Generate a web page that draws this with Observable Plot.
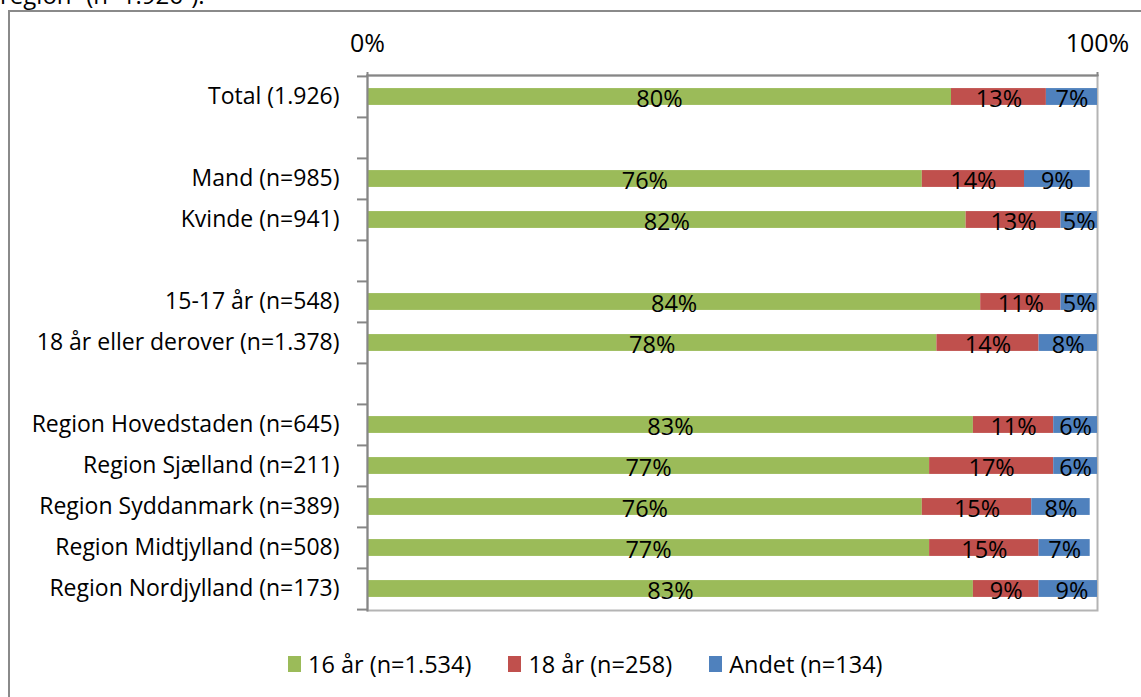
<!DOCTYPE html>
<html>
<head>
<meta charset="utf-8">
<script src="https://cdn.jsdelivr.net/npm/d3@7"></script>
<script src="https://cdn.jsdelivr.net/npm/@observablehq/plot@0.6"></script>
<style>
  body { margin: 0; background: #fff; font-family: "Open Sans", sans-serif; color: #000; }
  #wrap { position: relative; width: 1141px; height: 697px; overflow: hidden; background: #fff; }
  #caption { position: absolute; left: 0; top: -20px; font-size: 24px; line-height: 30px; white-space: nowrap; }
  #border { position: absolute; left: 8px; top: 10px; width: 1300px; height: 900px; border: 2px solid #8a8a8a; box-sizing: border-box; }
  #chart { position: absolute; left: 0; top: 0; }
  #legend { position: absolute; left: 288px; top: 648px; display: flex; align-items: center; font-size: 23.5px; line-height: 32px; }
  .item { display: flex; align-items: center; margin-right: 37px; }
  .swatch { width: 13px; height: 16px; margin-right: 7px; }
</style>
</head>
<body>
<div id="wrap">
  <div id="caption">region” (n=1.926”).</div>
  <div id="border"></div>
  <div id="chart"></div>
  <div id="legend"></div>
</div>
<script>
// Answer groups (stack order, left to right) and their colours
const series = ["16 år (n=1.534)", "18 år (n=258)", "Andet (n=134)"];
const colors = ["#9BBB59", "#C0504D", "#4F81BD"];

// Respondent groups
const groups = [
  "Total (1.926)",
  "Mand (n=985)",
  "Kvinde (n=941)",
  "15-17 år (n=548)",
  "18 år eller derover (n=1.378)",
  "Region Hovedstaden (n=645)",
  "Region Sjælland (n=211)",
  "Region Syddanmark (n=389)",
  "Region Midtjylland (n=508)",
  "Region Nordjylland (n=173)"
];

// Shares in percent, one value per group
const share16 = [80, 76, 82, 84, 78, 83, 77, 76, 77, 83];
const share18 = [13, 14, 13, 11, 14, 11, 17, 15, 15, 9];
const shareAndet = [7, 9, 5, 5, 8, 6, 6, 8, 7, 9];

// Empty rows separate total, gender, age and region blocks
const gapKeys = ["gap-1", "gap-2", "gap-3"];
const rows = [
  groups[0], gapKeys[0],
  groups[1], groups[2], gapKeys[1],
  groups[3], groups[4], gapKeys[2],
  ...groups.slice(5)
];

const xTicks = [0, 100];

const shares = [share16, share18, shareAndet];
const data = [];
groups.forEach((g, i) => {
  series.forEach((s, j) => data.push({group: g, series: s, value: shares[j][i]}));
});

const width = 1141, height = 630;
const marginTop = 75, marginBottom = 20, marginLeft = 367, marginRight = 44;
const plotW = width - marginLeft - marginRight;
const bw = (height - marginTop - marginBottom) / rows.length;
const barInset = (bw - 17) / 2;

const chart = Plot.plot({
  width, height, marginTop, marginBottom, marginLeft, marginRight,
  style: {fontFamily: "'Open Sans', sans-serif", fontSize: "23px", color: "#000", background: "transparent", overflow: "visible"},
  x: {domain: [0, 100]},
  y: {domain: rows, padding: 0},
  color: {domain: series, range: colors},
  marks: [
    // light frame: 100% gridline and bottom edge
    Plot.frame({stroke: "#b4b4b4", strokeWidth: 2}),
    Plot.barX(data, {
      x: "value", y: "group", fill: "series",
      insetTop: barInset, insetBottom: barInset, clip: true
    }),
    Plot.text(data, Plot.stackX({
      x: "value", y: "group",
      text: d => d.value + "%",
      fontSize: 23.5, fill: "#000", dy: 2
    })),
    // category axis line and boundary ticks
    Plot.frame({anchor: "left", stroke: "#868686", strokeWidth: 2}),
    Plot.frame({anchor: "top", stroke: "#868686", strokeWidth: 2}),
    Plot.ruleY(rows, {y: d => d, dy: -bw / 2, insetLeft: -10, insetRight: plotW, stroke: "#868686", strokeWidth: 2}),
    Plot.ruleY(rows.slice(-1), {y: d => d, dy: bw / 2, insetLeft: -10, insetRight: plotW, stroke: "#868686", strokeWidth: 2}),
    Plot.axisX(xTicks, {
      anchor: "top", label: null, tickSize: 4, tickPadding: 20,
      tickFormat: d => d + "%", fontSize: 25, stroke: "#868686", strokeWidth: 2, fill: "#000"
    }),
    Plot.axisY({
      label: null, tickSize: 0, tickPadding: 28, fontSize: 23, fill: "#000",
      tickFormat: d => gapKeys.includes(d) ? "" : d
    })
  ]
});
document.getElementById("chart").appendChild(chart);

// Legend below the chart
const legend = document.getElementById("legend");
series.forEach((s, i) => {
  const item = document.createElement("div");
  item.className = "item";
  const sw = document.createElement("span");
  sw.className = "swatch";
  sw.style.background = colors[i];
  const label = document.createElement("span");
  label.textContent = s;
  item.append(sw, label);
  legend.appendChild(item);
});
</script>
</body>
</html>
